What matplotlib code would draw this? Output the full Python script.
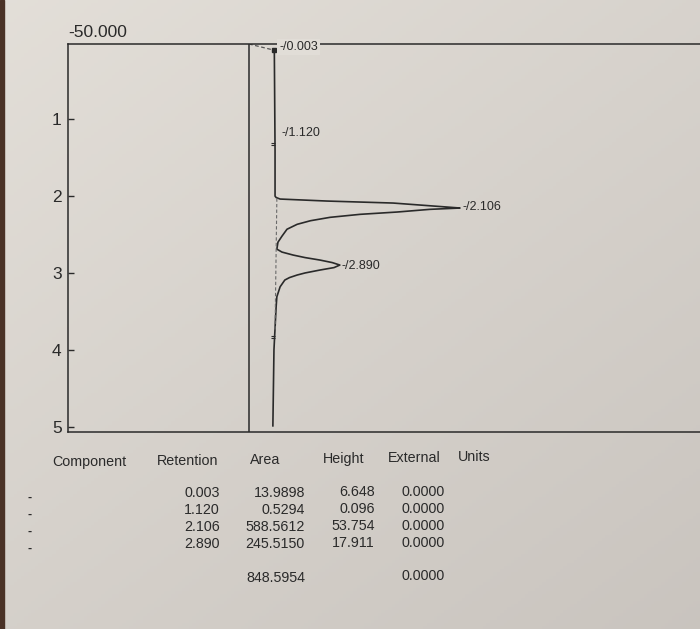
import numpy as np
import matplotlib
matplotlib.use("Agg")
import matplotlib.pyplot as plt
from matplotlib.patches import Rectangle

plt.rcParams['font.family'] = ['Liberation Sans', 'DejaVu Sans']

# ---------------- data ----------------
# chromatogram trace (time in min, signal)
trace_time = [0.10, 0.75, 1.40, 2.00, 2.018, 2.038, 2.064, 2.090, 2.142, 2.155,
              2.172, 2.207, 2.237, 2.276, 2.320, 2.367, 2.431, 2.522, 2.600,
              2.690, 2.728, 2.767, 2.800, 2.832, 2.865, 2.897, 2.930, 2.962,
              3.000, 3.027, 3.060, 3.092, 3.180, 3.310, 3.440, 4.000, 4.990]
trace_signal = [7.0, 7.1, 7.2, 7.2, 7.5, 8.6, 21.5, 39.8, 54.7, 58.3,
                50.0, 40.9, 30.7, 22.4, 17.0, 13.3, 10.5, 9.1, 8.0,
                7.7, 9.1, 12.2, 15.5, 19.6, 23.0, 25.1, 23.5, 19.6,
                15.5, 13.3, 11.2, 9.9, 8.6, 7.7, 7.5, 6.9, 6.6]

# drawn baselines (signal, time)
base0_signal = [0.0, 6.9]
base0_time = [0.02, 0.10]
base1_signal = [7.7, 7.2]
base1_time = [2.03, 3.74]
event_marks = [1.31, 3.82]

# peak table
components = ["-", "-", "-", "-"]
retention = [0.003, 1.120, 2.106, 2.890]
area = [13.9898, 0.5294, 588.5612, 245.5150]
height = [6.648, 0.096, 53.754, 17.911]
external = [0.0, 0.0, 0.0, 0.0]
total_area = 848.5954
total_external = 0.0
headers = ["Component", "Retention", "Area", "Height", "External", "Units"]

# apex signal where the peak labels attach
label_signal = [7.2, 7.2, 58.3, 25.1]

time_ticks = [1, 2, 3, 4, 5]
x_min, x_max = -50.0, 124.6

# ---------------- figure ----------------
W, H = 700, 629
fig = plt.figure(figsize=(W / 100, H / 100), dpi=100)

# paper background
bg = fig.add_axes([0, 0, 1, 1], zorder=-10)
yy, xx = np.mgrid[0:1:200j, 0:1:200j]
g = 0.55 * yy + 0.45 * xx
c1 = np.array([0.890, 0.873, 0.848])
c2 = np.array([0.790, 0.770, 0.748])
img = c1 + (c2 - c1) * g[..., None]
bg.imshow(img, extent=[0, 1, 0, 1], aspect='auto', origin='upper')
bg.add_patch(Rectangle((0, 0), 4 / W, 1, color='#4a3226', transform=bg.transAxes))
bg.set_xlim(0, 1); bg.set_ylim(0, 1)
bg.axis('off')

ink = '#2a2a2a'
ax = fig.add_axes([68 / W, 1 - 432 / H, 632 / W, 388 / H])
ax.patch.set_alpha(0)
ax.set_xlim(x_min, x_max)
ax.set_ylim(5.07, 0.02)
for s in ['top', 'left', 'bottom']:
    ax.spines[s].set_color(ink)
    ax.spines[s].set_linewidth(1.1)
ax.spines['right'].set_visible(False)
ax.set_xticks([])
ax.set_yticks(time_ticks)
ax.set_yticklabels([str(t) for t in time_ticks])
ax.tick_params(axis='y', direction='in', length=4.5, width=1.0, color=ink,
               pad=4.5, labelsize=12.5, labelcolor=ink)

ax.axvline(0, color=ink, lw=1.1)
ax.plot(trace_signal, trace_time, color=ink, lw=1.2, solid_joinstyle='round')
ax.plot(base0_signal, base0_time, color='#555555', lw=0.9, ls=(0, (3, 2)))
ax.plot(base0_signal[-1:], base0_time[-1:], 's', color=ink, ms=2.5)
ax.plot(base1_signal, base1_time, color='#6a6a6a', lw=0.8, ls=(0, (3, 2)))
for t in event_marks:
    ax.hlines([t, t + 0.028], 6.1, 7.2, color=ink, lw=0.8)

offs_x = [4, 6, 2, 2]
offs_y = [-4, -4, -3, -1]
for i, (r, sx, ox, oy) in enumerate(zip(retention, label_signal, offs_x, offs_y)):
    box = None
    if i == 0:  # the first label interrupts the top border line
        box = dict(boxstyle='square,pad=0.15', fc='#e1ddd7', ec='none')
    ax.annotate(f"-/{r:.3f}", xy=(sx, r), xytext=(ox, oy),
                textcoords='offset pixels', ha='left', va='center',
                fontsize=9, color=ink, annotation_clip=False, bbox=box)

fig.text(68 / W, 1 - 32.5 / H, f"{x_min:.3f}", ha='left', va='center',
         fontsize=12.5, color=ink)

# ---------------- table ----------------
def fx(px):
    return px / W

def fy(py):
    return 1 - py / H

hdr_x = [52, 157, 250, 323, 388, 458]
hdr_y = [462, 461, 460, 459, 458, 457]
for h, x, y in zip(headers, hdr_x, hdr_y):
    fig.text(fx(x), fy(y), h, ha='left', va='center', fontsize=10.3, color=ink)

row_y = [493, 510, 527, 544]
for i, y in enumerate(row_y):
    fig.text(fx(30), fy(y + 5), components[i], ha='center', va='center',
             fontsize=9, color=ink, fontweight='bold')
    fig.text(fx(220), fy(y), f"{retention[i]:.3f}", ha='right', va='center',
             fontsize=10.3, color=ink)
    fig.text(fx(305), fy(y), f"{area[i]:.4f}", ha='right', va='center',
             fontsize=10.3, color=ink)
    fig.text(fx(375), fy(y - 1), f"{height[i]:.3f}", ha='right', va='center',
             fontsize=10.3, color=ink)
    fig.text(fx(445), fy(y - 1), f"{external[i]:.4f}", ha='right', va='center',
             fontsize=10.3, color=ink)

fig.text(fx(305), fy(578), f"{total_area:.4f}", ha='right', va='center',
         fontsize=10.3, color=ink)
fig.text(fx(445), fy(576), f"{total_external:.4f}", ha='right', va='center',
         fontsize=10.3, color=ink)

fig.savefig("out.png", dpi=100)
